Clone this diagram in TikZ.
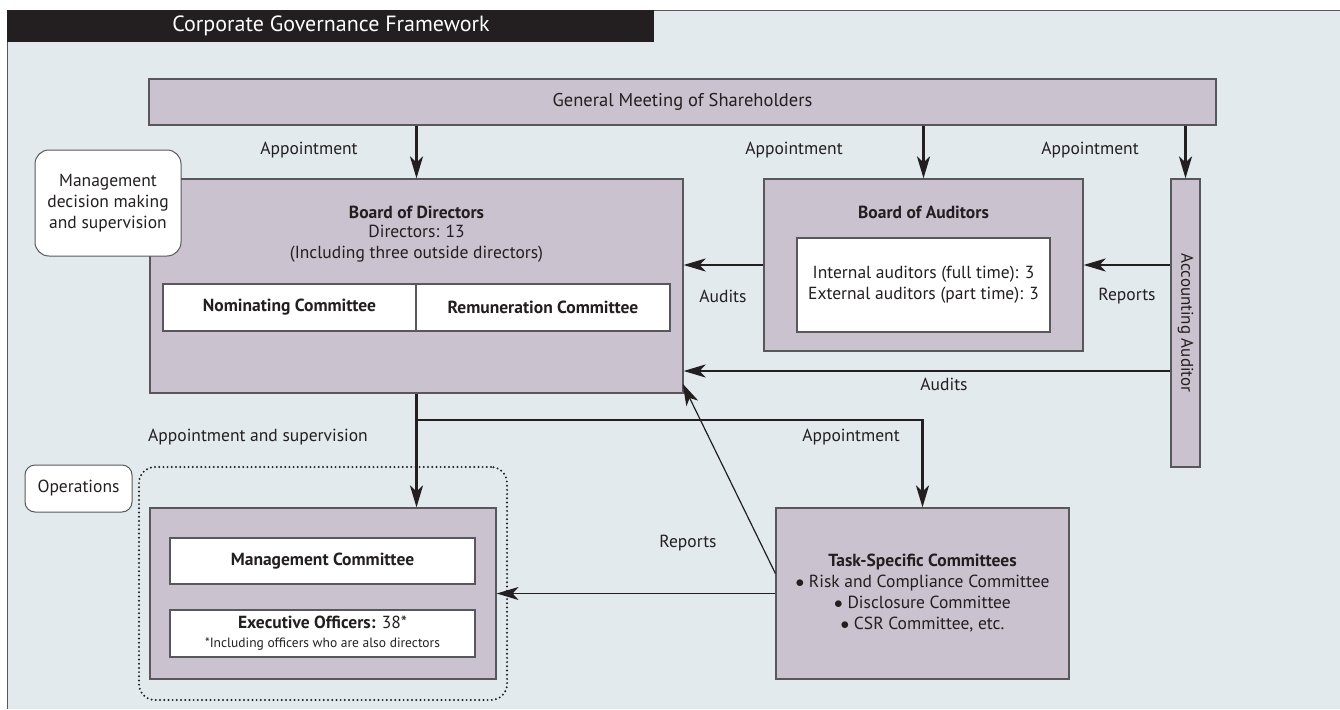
\documentclass[tikz,border=0pt]{standalone}
\usepackage{fontspec}
\setmainfont{PT Sans}
\usepackage{tikz}
\usetikzlibrary{arrows.meta}

\definecolor{bgblue}{HTML}{E2EAEE}
\definecolor{boxlilac}{HTML}{CAC2CE}
\definecolor{edgegray}{HTML}{58585C}
\definecolor{inkblack}{HTML}{231F20}

\tikzset{
  box/.style={draw=edgegray, line width=1.2pt, fill=boxlilac, inner sep=0pt},
  whitebox/.style={draw=edgegray, line width=1.2pt, fill=white, inner sep=0pt, align=center},
  tagbox/.style={draw=edgegray, line width=1pt, fill=white, rounded corners=14pt, inner sep=0pt, align=center},
  dotframe/.style={draw=inkblack, line width=2.2pt, line cap=round, dash pattern=on 0pt off 4.2pt, rounded corners=16pt},
  txt/.style={font=\fontsize{17.5}{21}\selectfont, text=inkblack, align=center, inner sep=0pt},
  head/.style={font=\fontsize{17.5}{21}\selectfont\bfseries, text=inkblack, align=center, inner sep=0pt},
  arr/.style={draw=inkblack, line width=2.6pt, -{Stealth[length=22pt,width=13pt,inset=6pt]}},
  thinarr/.style={draw=inkblack, line width=1.2pt, -{Stealth[length=22pt,width=13pt,inset=6pt]}},
}

\begin{document}
\begin{tikzpicture}[x=1pt,y=-1pt]
  \useasboundingbox (0,0) rectangle (1340,709);
  % frame and title
  \fill[bgblue] (7,10) rectangle (1340,709);
  \draw[edgegray, line width=0.8pt] (654,10) -- (1340,10);
  \draw[edgegray, line width=1.2pt] (7.5,10) -- (7.5,709);
  \fill[inkblack] (7,10) rectangle (654,42);
  \node[font=\fontsize{22}{24}\selectfont, text=white] (title) at (331,26) {Corporate Governance Framework};

  % top level
  \node[box, minimum width=1067pt, minimum height=46pt, txt, font=\fontsize{18.5}{21}\selectfont] (gms) at (682.5,102) {General Meeting of Shareholders};

  % board of directors
  \node[box, minimum width=533pt, minimum height=214pt] (bod) at (416.5,286) {};
  \node[head] (bodname) at (416.5,212) {Board of Directors};
  \node[txt] (bodinfo) at (416.5,243.5) {Directors: 13\\(Including three outside directors)};
  \node[whitebox, minimum width=253pt, minimum height=47pt, head] (nom) at (289.5,307.5) {Nominating Committee};
  \node[whitebox, minimum width=254pt, minimum height=47pt, head] (rem) at (543,307.5) {Remuneration Committee};
  \node[tagbox, minimum width=146pt, minimum height=106pt, txt] (mgmt) at (108,203) {Management\\decision making\\and supervision};

  % auditors
  \node[box, minimum width=319pt, minimum height=172pt] (boa) at (923.5,265) {};
  \node[head] (boaname) at (923.5,212) {Board of Auditors};
  \node[whitebox, minimum width=253pt, minimum height=94pt, txt] (auds) at (923.5,285) {Internal auditors (full time): 3\\External auditors (part time): 3};
  \node[box, minimum width=29pt, minimum height=288pt] (aa) at (1185.5,323) {};
  \node[txt, font=\fontsize{17}{20}\selectfont, rotate=-90] (aaname) at (aa.center) {Accounting Auditor};

  % operations
  \node[tagbox, rounded corners=10pt, minimum width=107pt, minimum height=47pt, txt] (opstag) at (78.5,488.5) {Operations};
  \node[dotframe, minimum width=368pt, minimum height=233pt] (opsgroup) at (323,583.5) {};
  \node[box, minimum width=346pt, minimum height=171pt] (ops) at (323,593.5) {};
  \node[whitebox, minimum width=305pt, minimum height=46pt, head] (mc) at (322.5,561) {Management Committee};
  \node[whitebox, minimum width=305pt, minimum height=47pt, txt] (eo) at (322.5,633.5) {\textbf{Executive Officers:} 38*\\[-2pt]{\fontsize{13.5}{16}\selectfont *Including officers who are also directors}};
  \node[box, minimum width=293pt, minimum height=171pt, txt] (task) at (922.5,593.5) {\textbf{Task-Specific Committees}\\$\bullet$ Risk and Compliance Committee\\$\bullet$ Disclosure Committee\\$\bullet$ CSR Committee, etc.};

  % connectors
  \coordinate (branch) at (416.5,420);
  \coordinate (lowline) at (700,371);
  \draw[arr] (bod.north |- gms.south) -- (bod.north);
  \draw[arr] (boa.north |- gms.south) -- (boa.north);
  \draw[arr] (aa.north |- gms.south) -- (aa.north);
  \draw[arr] (boa.west) -- (boa.west -| bod.east);
  \draw[arr] (aa.west |- boa.east) -- (boa.east);
  \draw[arr] (aa.west |- lowline) -- (bod.east |- lowline);
  \draw[arr] (bod.south) -- (bod.south |- ops.north);
  \draw[arr] (branch) -- (branch -| task.north) -- (task.north);
  \draw[thinarr] (task.west) -- (ops.east);
  \draw[thinarr] ([yshift=20pt]task.west) -- ([xshift=-1pt,yshift=10pt]bod.south east);

  % labels
  \node[txt] (ap1) at (309,150) {Appointment};
  \node[txt] (ap2) at (794,150) {Appointment};
  \node[txt] (ap3) at (1090,150) {Appointment};
  \node[txt] (aud1) at (723,296) {Audits};
  \node[txt] (rep1) at (1127,296) {Reports};
  \node[txt] (aud2) at (944,384) {Audits};
  \node[txt] (apsup) at (258,437) {Appointment and supervision};
  \node[txt] (ap4) at (851,437) {Appointment};
  \node[txt] (rep2) at (688,543) {Reports};
\end{tikzpicture}
\end{document}
